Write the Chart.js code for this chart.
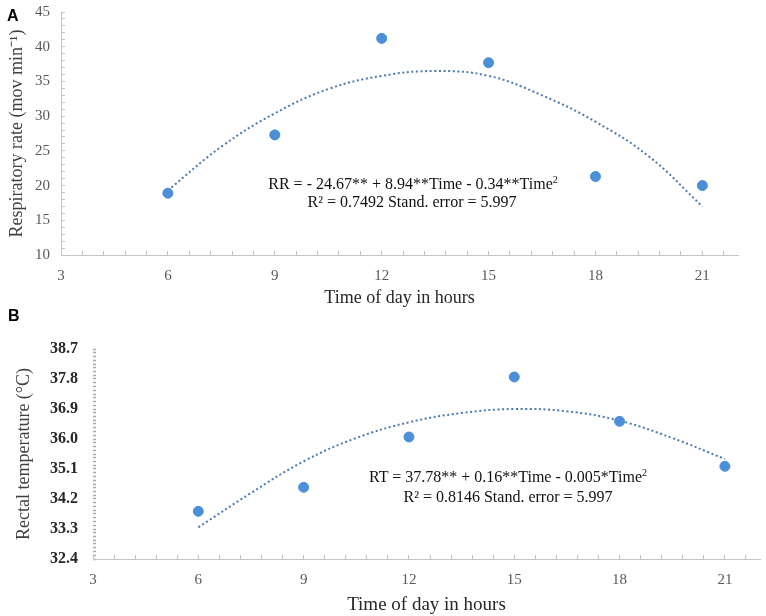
<!DOCTYPE html>
<html>
<head>
<meta charset="utf-8">
<script src="https://cdn.jsdelivr.net/npm/chart.js@4.4.0/dist/chart.umd.min.js"></script>
<style>
  body { margin: 0; background: #fff; }
  #wrap { position: relative; width: 766px; height: 616px; overflow: hidden; font-family: "Liberation Serif", "Times New Roman", serif; }
  canvas { position: absolute; left: 0; }
  #chartA { top: 0; }
  #chartB { top: 310px; }
  .panel { position: absolute; font: bold 16px "Liberation Sans", Arial, sans-serif; color: #000; line-height: 1; }
  .eq { position: absolute; transform: translate(-50%, -50%); white-space: nowrap; font-size: 16px; color: #111; line-height: 1; }
  .eq sup { font-size: 10px; vertical-align: 6px; line-height: 0; }
</style>
</head>
<body>
<div id="wrap">
  <canvas id="chartA" width="766" height="310"></canvas>
  <canvas id="chartB" width="766" height="306"></canvas>
  <div class="panel" style="left:7px; top:8px;">A</div>
  <div class="panel" style="left:8px; top:308px;">B</div>
  <div class="eq" style="left:413px; top:184px;">RR = - 24.67** + 8.94**Time - 0.34**Time<sup>2</sup></div>
  <div class="eq" style="left:412px; top:202px;">R² = 0.7492 Stand. error = 5.997</div>
  <div class="eq" style="left:508px; top:477px;">RT = 37.78** + 0.16**Time - 0.005*Time<sup>2</sup></div>
  <div class="eq" style="left:508px; top:497px;">R² = 0.8146 Stand. error = 5.997</div>
</div>
<script>
// observed values
const hours = [6, 9, 12, 15, 18, 21];
const respRate = [18.9, 27.3, 41.2, 37.7, 21.3, 20.0];
const rectalTemp = [33.83, 34.55, 36.06, 37.86, 36.53, 35.18];

// fitted curves
const trendHours = [6, 7.5, 9, 10.5, 12, 13.5, 15, 16.5, 18, 19.5, 21];
const respTrend = [19.3, 25.6, 30.4, 33.9, 35.8, 36.5, 35.8, 33.0, 29.2, 24.2, 17.0];
const tempTrend = [33.35, 34.38, 35.33, 36.03, 36.5, 36.78, 36.9, 36.83, 36.55, 36.03, 35.4];

// tick labels
const xTickLabels = [3, 6, 9, 12, 15, 18, 21];
const yTicksA = [10, 15, 20, 25, 30, 35, 40, 45];
const yTicksB = [32.4, 33.3, 34.2, 35.1, 36.0, 36.9, 37.8, 38.7];

const serif = '"Liberation Serif", "Times New Roman", serif';
const dotColor = '#4a8fd8';
const lineColor = '#4a7ab0';
const axisColor = '#c4c4c4';

function toXY(xs, ys) {
    return xs.map((x, i) => ({ x: x, y: ys[i] }));
}

function isListed(list, v) {
    return list.some(t => Math.abs(t - v) < 1e-6);
}

function datasets(values, trend) {
    return [{
        label: 'observed',
        data: toXY(hours, values),
        backgroundColor: dotColor,
        borderColor: dotColor,
        pointRadius: 5,
        showLine: false
    },
    {
        label: 'fit',
        data: toXY(trendHours, trend),
        borderColor: lineColor,
        borderWidth: 2,
        borderDash: [2, 2.6],
        pointRadius: 0,
        showLine: true,
        tension: 0.4
    }];
}

// y axis box: fixed width, no extra label padding above/below
function fixWidth(w) {
    return scale => {
        scale.width = w;
        scale.paddingTop = 0;
        scale.paddingBottom = 0;
    };
}

function xScale(height, titleSize, titlePad) {
    return {
        type: 'linear',
        min: 3,
        max: 22,
        afterFit: scale => { scale.height = height; },
        border: { color: axisColor, width: 1 },
        grid: { drawOnChartArea: false, color: axisColor, tickLength: -4 },
        ticks: {
            stepSize: 0.6,
            includeBounds: false,
            autoSkip: false,
            maxRotation: 0,
            padding: 16,
            color: '#595959',
            font: { family: serif, size: 15 },
            callback: v => isListed(xTickLabels, v) ? String(Math.round(v)) : ''
        },
        title: {
            display: true,
            text: 'Time of day in hours',
            color: '#262626',
            font: { family: serif, size: titleSize },
            padding: { top: 0, bottom: titlePad }
        }
    };
}

const baseOptions = {
    responsive: false,
    animation: false,
    plugins: { legend: { display: false }, tooltip: { enabled: false } }
};

new Chart(document.getElementById('chartA').getContext('2d'), {
    type: 'scatter',
    data: { datasets: datasets(respRate, respTrend) },
    options: {
        ...baseOptions,
        layout: { padding: { left: 0, right: 28, top: 12, bottom: 0 } },
        scales: {
            x: xScale(55, 18, 1),
            y: {
                min: 10,
                max: 45,
                afterFit: fixWidth(61),
                border: { color: axisColor, width: 1 },
                grid: { drawOnChartArea: false, color: axisColor, tickLength: -4 },
                ticks: {
                    stepSize: 1,
                    autoSkip: false,
                    padding: 15,
                    color: '#595959',
                    font: { family: serif, size: 15 },
                    callback: v => isListed(yTicksA, v) ? String(v) : ''
                },
                title: {
                    display: true,
                    text: 'Respiratory rate (mov min\u207B\u00B9)',
                    color: '#404040',
                    font: { family: serif, size: 18 },
                    padding: { top: 6, bottom: 0 }
                }
            }
        }
    }
});

new Chart(document.getElementById('chartB').getContext('2d'), {
    type: 'scatter',
    data: { datasets: datasets(rectalTemp, tempTrend) },
    options: {
        ...baseOptions,
        layout: { padding: { left: 0, right: 5, top: 39, bottom: 0 } },
        scales: {
            x: xScale(57, 19, 0),
            y: {
                min: 32.4,
                max: 38.7,
                afterFit: fixWidth(93),
                // the axis itself is a dotted line: no border, short marks every step
                border: { display: false },
                grid: { drawOnChartArea: false, color: '#a9a9a9', tickLength: -3, tickWidth: 1.5 },
                ticks: {
                    stepSize: 0.1125,
                    autoSkip: false,
                    padding: 18,
                    color: '#262626',
                    font: { family: serif, size: 16, weight: 'bold' },
                    callback: v => isListed(yTicksB, v) ? v.toFixed(1) : ''
                },
                title: {
                    display: true,
                    text: 'Rectal temperature (°C)',
                    color: '#404040',
                    font: { family: serif, size: 18 },
                    padding: { top: 13, bottom: 0 }
                }
            }
        }
    }
});
</script>
</body>
</html>
